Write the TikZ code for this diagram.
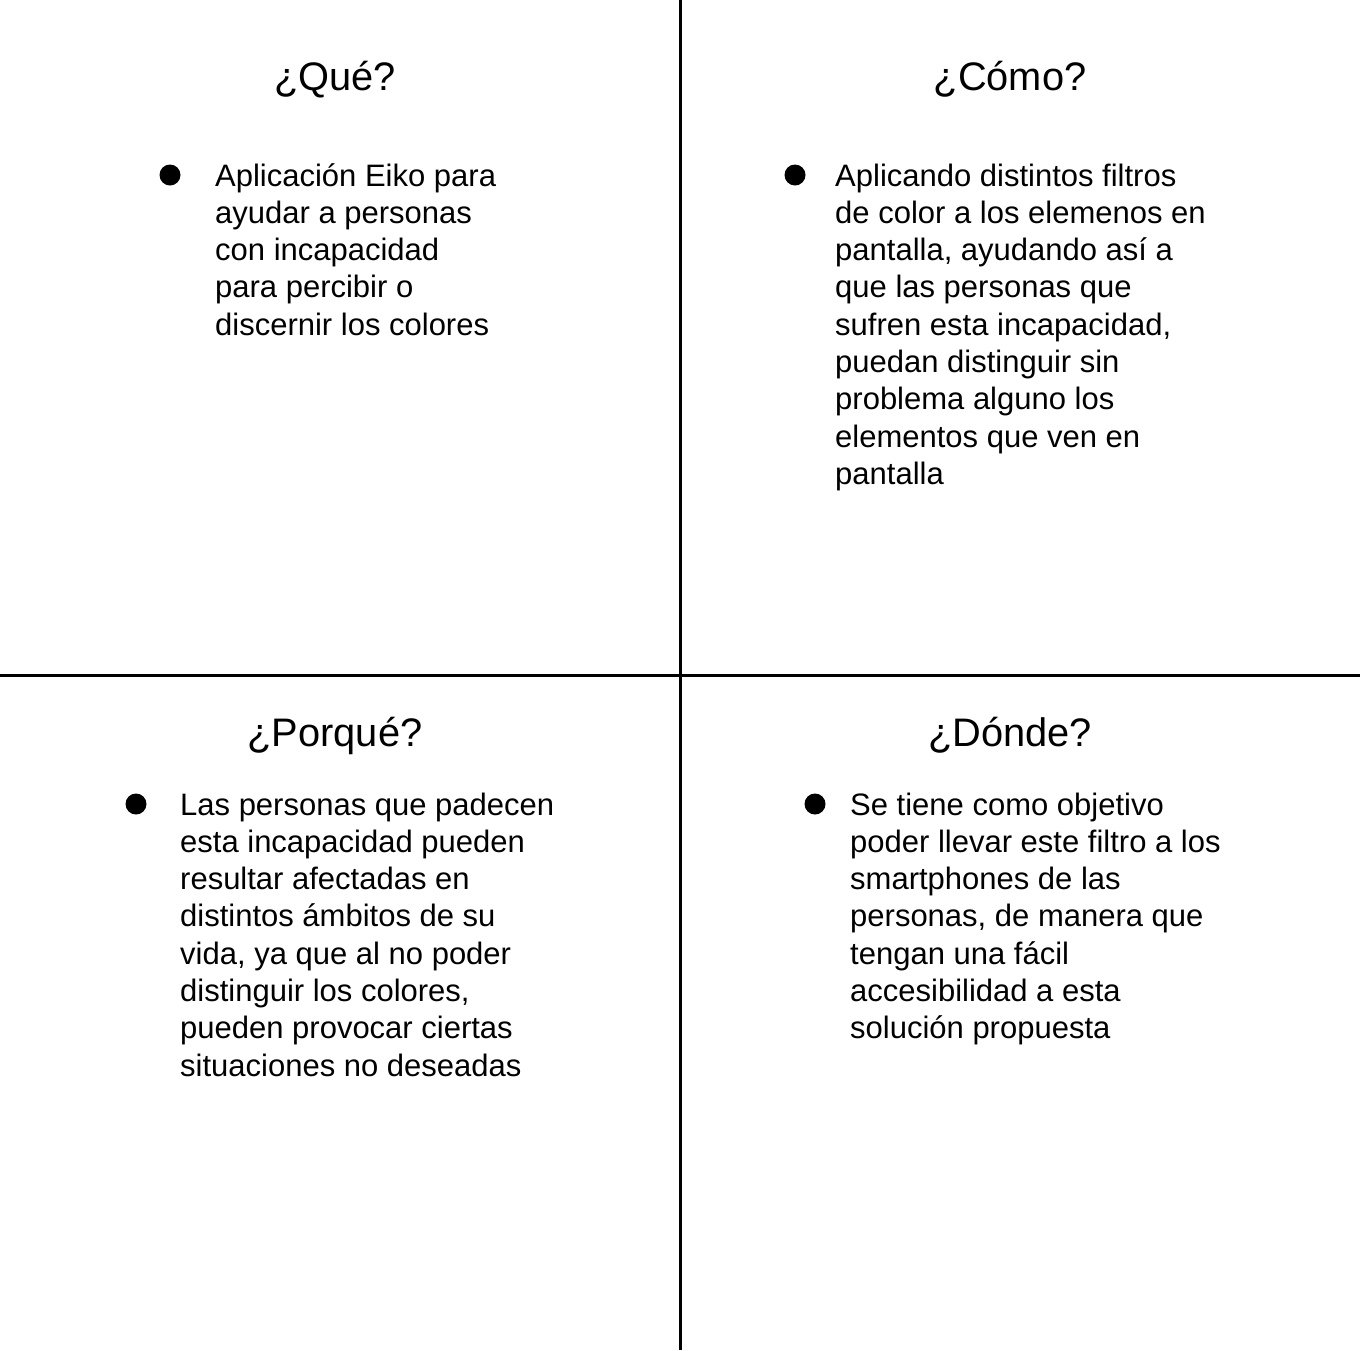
\documentclass[tikz,border=0pt]{standalone}
\usepackage{fontspec}
\setmainfont{Liberation Sans}
\begin{document}
\begin{tikzpicture}[x=1pt,y=-1pt,
  divider/.style={line width=3pt,black},
  title/.style={font=\fontsize{39.8}{44}\selectfont,anchor=base,inner sep=0pt},
  body/.style={font=\fontsize{31}{37.3}\selectfont,align=left,anchor=base west,inner sep=0pt},
  dot/.style={circle,fill=black,minimum size=21pt,inner sep=0pt}]
\useasboundingbox[fill=white] (0,0) rectangle (1360,1350);
\coordinate (vt) at (680,0);
\coordinate (vb) at (680,1350);
\coordinate (hl) at (0,675);
\coordinate (hr) at (1360,675);
\draw[divider] (vt) -- (vb);
\draw[divider] (hl) -- (hr);

\node[title] (t1) at (335,90.5) {¿Qué?};
\node[title] (t2) at (1010,90.5) {¿Cómo?};
\node[title] (t3) at (335,746) {¿Porqué?};
\node[title] (t4) at (1010,746) {¿Dónde?};

\node[dot] (b1) at (170,175) {};
\node[dot] (b2) at (795,175) {};
\node[dot] (b3) at (136,804) {};
\node[dot] (b4) at (815,804) {};

% body nodes are placed by the baseline of their last line
\node[body] (x1) at (215,335.2) {Aplicación Eiko para\\ayudar a personas\\con incapacidad\\para percibir o\\discernir los colores};
\node[body] (x2) at (835,484.4) {Aplicando distintos filtros\\de color a los elemenos en\\pantalla, ayudando así a\\que las personas que\\sufren esta incapacidad,\\puedan distinguir sin\\problema alguno los\\elementos que ven en\\pantalla};
\node[body] (x3) at (180,1076.1) {Las personas que padecen\\esta incapacidad pueden\\resultar afectadas en\\distintos ámbitos de su\\vida, ya que al no poder\\distinguir los colores,\\pueden provocar ciertas\\situaciones no deseadas};
\node[body] (x4) at (850,1038.8) {Se tiene como objetivo\\poder llevar este filtro a los\\smartphones de las\\personas, de manera que\\tengan una fácil\\accesibilidad a esta\\solución propuesta};
\end{tikzpicture}
\end{document}
